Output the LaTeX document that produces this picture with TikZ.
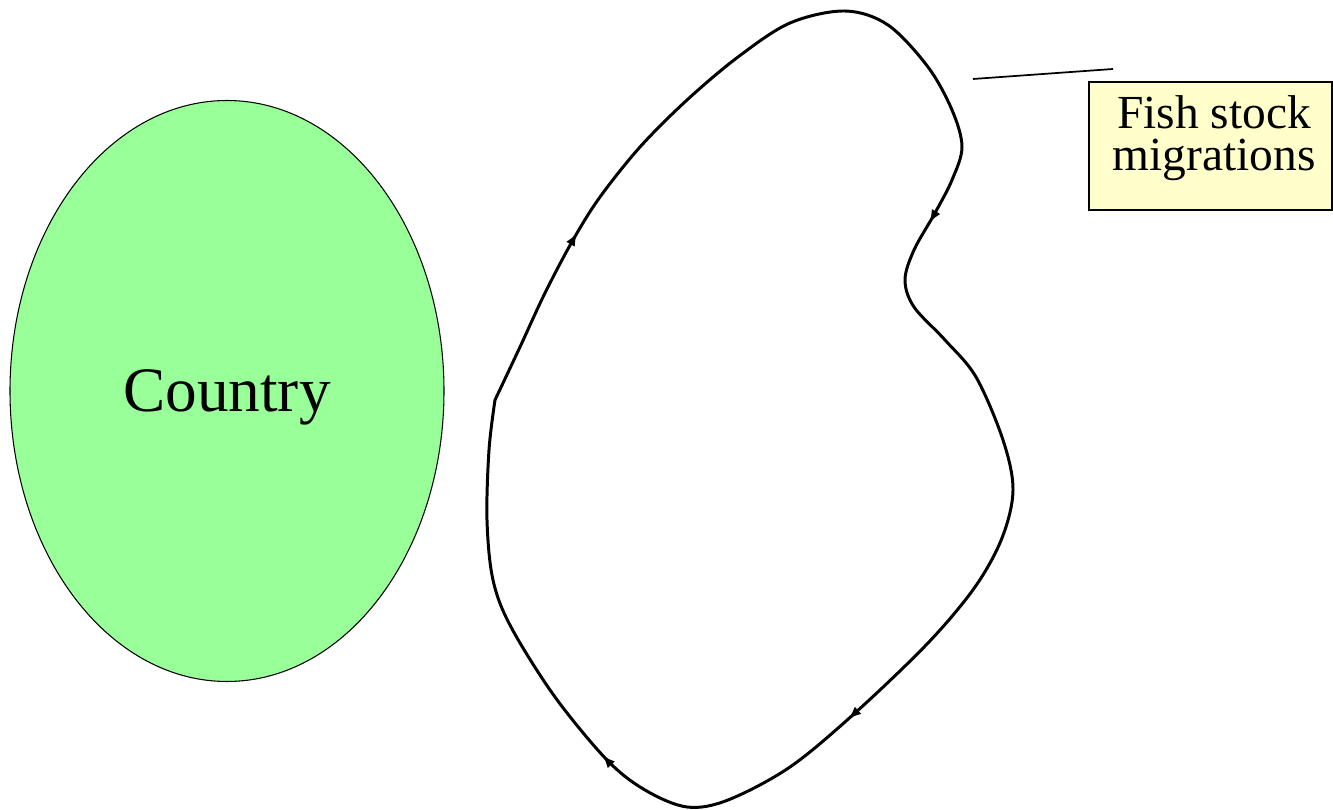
\documentclass[tikz,border=0pt]{standalone}
\usepackage{fontspec}
\setmainfont{Liberation Serif}
\usetikzlibrary{arrows.meta,decorations.markings,shapes.geometric}
\definecolor{countrygreen}{RGB}{153,255,153}
\definecolor{labelyellow}{RGB}{255,255,204}
\tikzset{
  countryshape/.style={ellipse, draw=black, line width=0.6pt, fill=countrygreen, inner sep=0pt},
  bigtext/.style={font=\fontsize{36}{40}\selectfont, inner sep=0pt},
  labelbox/.style={draw=black, line width=1pt, fill=labelyellow, inner sep=0pt},
  labeltext/.style={align=center, font=\fontsize{27}{24}\selectfont, inner sep=0pt},
  migloop/.style={line width=1.7pt, line join=round, postaction={decorate}, decoration={markings,
     mark=at position 0.089 with {\arrow{Latex[length=0.26cm,width=0.2cm]}},
     mark=at position 0.392 with {\arrow{Latex[length=0.26cm,width=0.2cm]}},
     mark=at position 0.676 with {\arrow{Latex[length=0.26cm,width=0.2cm]}},
     mark=at position 0.814 with {\arrow{Latex[length=0.26cm,width=0.2cm]}}}},
  leader/.style={line width=1pt}
}
\begin{document}
\begin{tikzpicture}[x=0.02cm,y=-0.02cm]
\useasboundingbox (0,0) rectangle (1333,810);
\node[countryshape, minimum width=434*0.02cm, minimum height=581*0.02cm] (country) at (227,391) {};
\node[bigtext] (countrytext) at (227,397) {Country};
\draw[migloop] plot[smooth, tension=0.55] coordinates {
 (495,400) (520,347) (545,293) (573,240) (600,197) (640,147) (687,100) (738,57) (790,23)
 (845,11) (888,25) (928,67) (952,110) (962,147) (952,180) (935,213) (914,250) (905,280)
 (914,307) (945,340) (976,377) (1003,440) (1013,490) (1002,538) (975,587) (928,643)
 (855,713) (790,767) (728,800) (687,807) (645,790) (607,760)
 (555,697) (511,627) (493,580) (487,520) (489,450) (495,400)};
\node[labelbox, minimum width=243*0.02cm, minimum height=128*0.02cm] (fish) at (1210.5,146) {};
\node[labeltext] (fishtext) at (1214,138) {Fish stock\\migrations};
\coordinate (leadA) at (973,79);
\coordinate (leadB) at (1113,69);
\draw[leader] (leadA) -- (leadB);
\end{tikzpicture}
\end{document}
